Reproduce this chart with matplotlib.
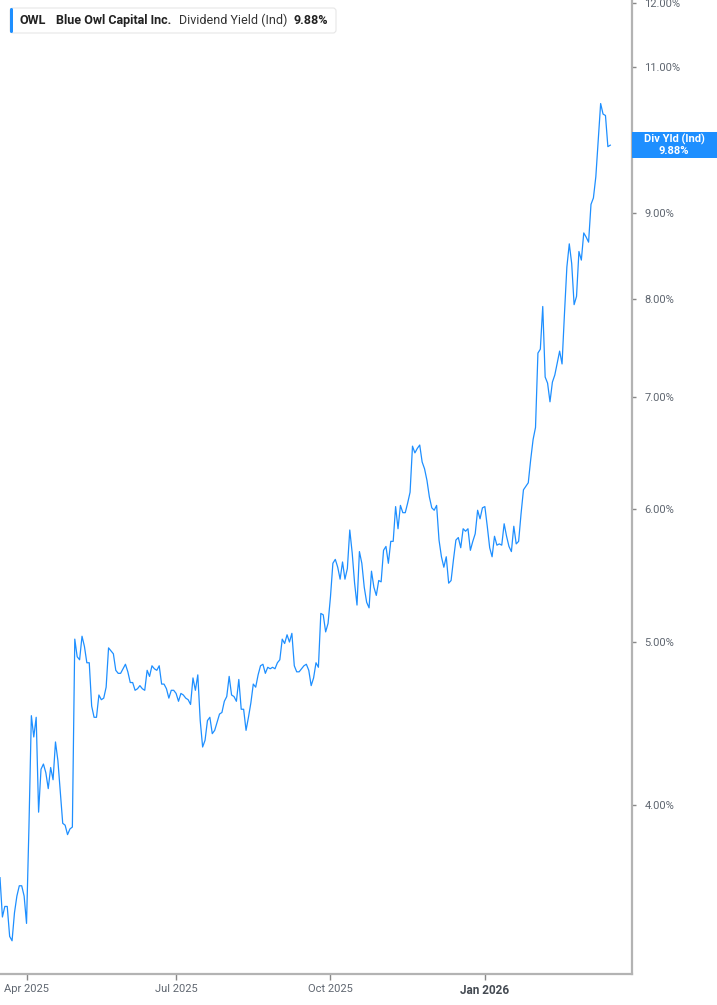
import numpy as np
import pandas as pd
import matplotlib
matplotlib.use("Agg")
import matplotlib.pyplot as plt
from matplotlib.patches import Rectangle, FancyBboxPatch
from matplotlib.ticker import FixedLocator, FuncFormatter, NullLocator

ticker = "OWL"
company = "Blue Owl Capital Inc."
metric = "Dividend Yield (Ind)"
short_metric = "Div Yld (Ind)"

start_date = "2025-03-17"
# NYSE closures inside the window
market_holidays = ["2025-04-18", "2025-05-26", "2025-06-19", "2025-07-04", "2025-09-01",
                   "2025-11-27", "2025-12-25", "2026-01-01", "2026-01-19", "2026-02-16"]

# daily indicated dividend yield, %
div_yield = [
    3.62, 3.43, 3.48, 3.48, 3.34, 3.32, 3.45, 3.53, 3.58, 3.58, 3.53, 3.40,
    3.88, 4.52, 4.39, 4.51, 3.96, 4.20, 4.23, 4.18, 4.09, 4.21, 4.14, 4.36, 4.25, 4.07, 3.90, 3.89, 3.84, 3.87, 3.88,
    5.02, 4.90, 4.88, 5.04, 4.97, 4.86, 4.86, 4.58, 4.51, 4.51, 4.65, 4.62, 4.63, 4.70, 4.96, 4.94, 4.92, 4.81, 4.79, 4.79,
    4.82, 4.85, 4.80, 4.73, 4.73, 4.68, 4.69, 4.71, 4.69, 4.68, 4.81, 4.77, 4.84, 4.82, 4.81, 4.84, 4.72, 4.72, 4.69, 4.63,
    4.68, 4.68, 4.66, 4.61, 4.66, 4.65, 4.63, 4.62, 4.59, 4.76, 4.68, 4.78, 4.49, 4.33, 4.37, 4.49, 4.51, 4.41, 4.43, 4.48,
    4.53, 4.54, 4.61, 4.64, 4.77, 4.65, 4.64, 4.61, 4.75,
    4.56, 4.56, 4.43, 4.51, 4.60, 4.72, 4.70, 4.78, 4.84, 4.85, 4.79, 4.83, 4.82, 4.83, 4.82, 4.86, 4.88, 5.02, 4.99, 5.05, 5.00, 5.06,
    4.84, 4.80, 4.80, 4.82, 4.84, 4.85, 4.81, 4.71, 4.76, 4.86, 4.83,
    5.20, 5.19, 5.07, 5.13, 5.32, 5.57, 5.60, 5.54, 5.45, 5.58, 5.45, 5.53, 5.83, 5.65, 5.42, 5.26, 5.66, 5.57, 5.39, 5.28, 5.24,
    5.51, 5.39, 5.33, 5.44, 5.43, 5.67, 5.70, 5.57, 5.74, 5.74, 6.02, 5.84, 6.03, 5.97, 5.97, 6.05, 6.14,
    6.54, 6.48, 6.52, 6.55, 6.40, 6.34, 6.24, 6.10, 6.01, 5.99, 6.03, 5.75, 5.62, 5.54, 5.62, 5.42, 5.44, 5.60, 5.75, 5.77, 5.69,
    5.84, 5.82, 5.84, 5.67, 5.74, 5.80, 5.99, 5.92, 6.01, 6.02, 5.86, 5.69, 5.62, 5.78, 5.71, 5.72,
    5.71, 5.88, 5.78, 5.70, 5.66, 5.86, 5.72, 5.74, 5.96, 6.16, 6.19, 6.22, 6.42, 6.60, 6.71, 7.43, 7.47, 7.92, 7.19, 7.13, 6.95,
    7.14, 7.21, 7.33, 7.45, 7.32, 7.84, 8.36, 8.63, 8.40, 7.94, 8.03, 8.54, 8.44, 8.76, 8.71, 8.65, 9.11, 9.19, 9.46, 9.95,
    10.46, 10.31, 10.29, 9.86, 9.88,
]

# 10.00% sits under the last-value tag, so it is not listed
y_ticks = [4, 5, 6, 7, 8, 9, 11, 12]
x_tick_months = ["2025-04-01", "2025-07-01", "2025-10-01", "2026-01-01"]
x_tick_labels = ["Apr 2025", "Jul 2025", "Oct 2025", "Jan 2026"]

BLUE = "#1e8fff"
GREY = "#b3b3b3"
LABEL = "#5f6670"

plt.rcParams["font.family"] = ["Roboto", "DejaVu Sans"]

bday = pd.offsets.CustomBusinessDay(holidays=market_holidays)
dates = pd.date_range(start_date, periods=len(div_yield), freq=bday)
x = np.arange(len(div_yield))

fig = plt.figure(figsize=(7.17, 10.05), dpi=100)
ax = fig.add_axes([0.0, 0.0308, 632 / 717, 0.9692])
ax.plot(x, div_yield, color=BLUE, lw=0.9, solid_joinstyle="round")

ax.set_yscale("log")
ax.set_ylim(3.172, 12.055)
ax.set_xlim(0, 262)

ax.yaxis.tick_right()
ax.yaxis.set_major_locator(FixedLocator(y_ticks))
ax.yaxis.set_minor_locator(NullLocator())
ax.yaxis.set_major_formatter(FuncFormatter(lambda v, p: f"{v:.2f}%"))
ax.tick_params(axis="y", which="major", direction="out", length=3, width=1, color="#888888",
               labelsize=8, labelcolor=LABEL, pad=6)

tick_pos = [int(np.searchsorted(dates, pd.Timestamp(m))) for m in x_tick_months]
ax.set_xticks(tick_pos)
ax.set_xticklabels(x_tick_labels)
ax.tick_params(axis="x", direction="out", length=4, width=1, color="#888888",
               labelsize=8, labelcolor=LABEL, pad=3)
for lbl in ax.get_xticklabels():
    if "Jan" in lbl.get_text():
        lbl.set_fontweight("bold")
        lbl.set_color("#444a52")
        lbl.set_fontsize(8.5)

for s in ["top", "left"]:
    ax.spines[s].set_visible(False)
for s in ["right", "bottom"]:
    ax.spines[s].set_color(GREY)
    ax.spines[s].set_linewidth(1.6)

# header legend box
fig.patches.append(FancyBboxPatch((10, 1005 - 33), 326, 25, boxstyle="round,pad=0,rounding_size=3",
                                  transform=None, facecolor="white", edgecolor="#e6e6e6", lw=0.8, zorder=5))
fig.patches.append(FancyBboxPatch((10, 1005 - 33), 3, 25, boxstyle="round,pad=0,rounding_size=1.5",
                                  transform=None, facecolor=BLUE, edgecolor="none", zorder=6))
hy = 1 - 20.5 / 1005
fig.text(20 / 717, hy, ticker, fontsize=9, fontweight="bold", color="#222222", va="center", zorder=7)
fig.text(56 / 717, hy, company, fontsize=9, fontweight="bold", color="#222222", va="center", zorder=7)
fig.text(179 / 717, hy, metric, fontsize=9, color="#333333", va="center", zorder=7)
fig.text(294 / 717, hy, f"{div_yield[-1]:.2f}%", fontsize=9, fontweight="bold", color="#222222",
         va="center", zorder=7)

# last value tag on the price axis
fig.canvas.draw()
_, ty = ax.transData.transform((x[-1], div_yield[-1]))
fig.patches.append(Rectangle((632, ty - 13), 85, 26, transform=None, facecolor=BLUE,
                             edgecolor="none", zorder=8))
fig.text(674 / 717, (ty + 5.5) / 1005, short_metric, fontsize=8, fontweight="bold", color="white",
         ha="center", va="center", zorder=9)
fig.text(674 / 717, (ty - 6) / 1005, f"{div_yield[-1]:.2f}%", fontsize=8, fontweight="bold",
         color="white", ha="center", va="center", zorder=9)

fig.savefig("out.png", dpi=100)
